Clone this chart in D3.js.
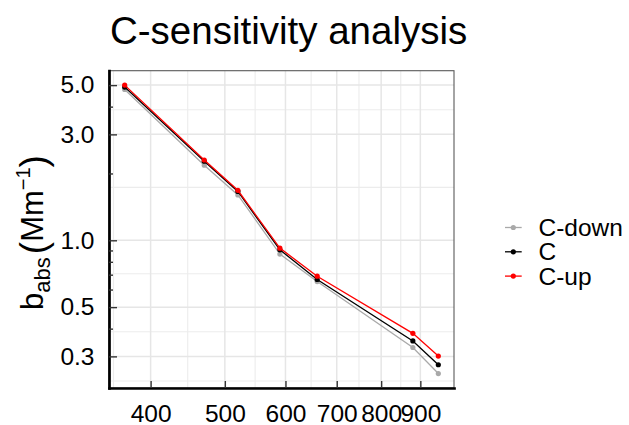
<!DOCTYPE html>
<html>
<head>
<meta charset="utf-8">
<script src="https://cdn.jsdelivr.net/npm/d3@7"></script>
<style>
  body { margin: 0; background: #fff; }
  text { font-family: "Liberation Sans", Arial, Helvetica, sans-serif; fill: #000; }
</style>
</head>
<body>
<svg id="chart" width="629" height="425"></svg>
<script>
// Absorption coefficient per wavelength for the three C scenarios
const wavelengths = [370, 470, 520, 590, 660, 880, 950];
const seriesNames = ["C-down", "C", "C-up"];
const cDown = [4.78, 2.18, 1.60, 0.867, 0.652, 0.329, 0.251];
const cMid  = [4.90, 2.27, 1.66, 0.906, 0.666, 0.352, 0.275];
const cUp   = [5.00, 2.30, 1.68, 0.922, 0.689, 0.381, 0.301];
const seriesColors = ["#a9a9a9", "#000000", "#ff0000"];

const xTicks = [400, 500, 600, 700, 800, 900];
const yTicks = [0.3, 0.5, 1.0, 3.0, 5.0];
const yTickLabels = ["0.3", "0.5", "1.0", "3.0", "5.0"];
const yMinorTicks = [0.4, 0.6, 0.7, 0.8, 0.9, 2, 4];

const series = [cDown, cMid, cUp].map((vals, i) => ({
  name: seriesNames[i],
  color: seriesColors[i],
  points: wavelengths.map((w, j) => ({ w, v: vals[j] }))
}));

const svg = d3.select("#chart");
const panel = { left: 109, right: 454, top: 70.7, bottom: 388 };

// log limits padded by 5% of the log range on each side
function paddedLog(lo, hi) {
  const a = Math.log10(lo), b = Math.log10(hi), pad = 0.05 * (b - a);
  return [Math.pow(10, a - pad), Math.pow(10, b + pad)];
}
const allVals = cDown.concat(cMid, cUp);
const x = d3.scaleLog().domain(paddedLog(d3.min(wavelengths), d3.max(wavelengths)))
  .range([panel.left, panel.right]);
const y = d3.scaleLog().domain(paddedLog(d3.min(allVals), d3.max(allVals)))
  .range([panel.bottom, panel.top]);

// minor grid positions: log-space midpoints between majors, extended one step
function minorBreaks(majors, domain) {
  const b = majors.map(Math.log10);
  const lim = domain.map(Math.log10);
  const bd = b[1] - b[0];
  let ext = b.slice();
  if (lim[0] < ext[0]) ext = [ext[0] - bd].concat(ext);
  if (lim[1] > ext[ext.length - 1]) ext.push(ext[ext.length - 1] + bd);
  const out = [];
  for (let i = 0; i < ext.length - 1; i++) out.push((ext[i] + ext[i + 1]) / 2);
  return out.map(v => Math.pow(10, v))
    .filter(v => Math.log10(v) >= lim[0] && Math.log10(v) <= lim[1]);
}

const grid = svg.append("g");
grid.selectAll(".xminor").data(minorBreaks(xTicks, x.domain())).join("line")
  .attr("x1", d => x(d)).attr("x2", d => x(d))
  .attr("y1", panel.top).attr("y2", panel.bottom)
  .attr("stroke", "#ececec").attr("stroke-width", 1.1);
grid.selectAll(".yminor").data(minorBreaks(yTicks, y.domain())).join("line")
  .attr("y1", d => y(d)).attr("y2", d => y(d))
  .attr("x1", panel.left).attr("x2", panel.right)
  .attr("stroke", "#ececec").attr("stroke-width", 1.1);
grid.selectAll(".xmajor").data(xTicks).join("line")
  .attr("x1", d => x(d)).attr("x2", d => x(d))
  .attr("y1", panel.top).attr("y2", panel.bottom)
  .attr("stroke", "#e6e6e6").attr("stroke-width", 1.5);
grid.selectAll(".ymajor").data(yTicks).join("line")
  .attr("y1", d => y(d)).attr("y2", d => y(d))
  .attr("x1", panel.left).attr("x2", panel.right)
  .attr("stroke", "#e6e6e6").attr("stroke-width", 1.5);

// panel border
svg.append("rect")
  .attr("x", panel.left).attr("y", panel.top)
  .attr("width", panel.right - panel.left).attr("height", panel.bottom - panel.top)
  .attr("fill", "none").attr("stroke", "#5a5a5a").attr("stroke-width", 1.1);

// series lines and points
const line = d3.line().x(d => x(d.w)).y(d => y(d.v));
const marks = svg.append("g");
series.forEach(s => {
  marks.append("path").datum(s.points)
    .attr("d", line).attr("fill", "none")
    .attr("stroke", s.color).attr("stroke-width", 1.3);
  marks.selectAll(null).data(s.points).join("circle")
    .attr("cx", d => x(d.w)).attr("cy", d => y(d.v)).attr("r", 2.6)
    .attr("fill", s.color);
});

// axes with inward ticks
const fontSize = 24.5;
const xAxis = svg.append("g").attr("transform", `translate(0,${panel.bottom})`)
  .call(d3.axisBottom(x).tickValues(xTicks).tickFormat(d3.format("d"))
    .tickSize(-7).tickSizeOuter(0).tickPadding(17));
const yAxis = svg.append("g").attr("transform", `translate(${panel.left},0)`)
  .call(d3.axisLeft(y).tickValues(yTicks).tickFormat((d, i) => yTickLabels[i])
    .tickSize(-8).tickSizeOuter(0).tickPadding(14.5));
const yAxisMinor = svg.append("g").attr("transform", `translate(${panel.left},0)`)
  .call(d3.axisLeft(y).tickValues(yMinorTicks).tickFormat("")
    .tickSize(-4).tickSizeOuter(0));
yAxisMinor.select(".domain").remove();

[xAxis, yAxis, yAxisMinor].forEach(g => {
  g.selectAll(".tick line").attr("stroke", "#333").attr("stroke-width", 1.4);
  g.selectAll(".tick text").attr("font-size", fontSize)
    .style("font-family", "'Liberation Sans', Arial, Helvetica, sans-serif").attr("fill", "#000");
});
[xAxis, yAxis].forEach(g => {
  g.select(".domain").attr("stroke", "#000").attr("stroke-width", 2.7)
    .attr("stroke-linecap", "square");
});

// title
svg.append("text").attr("x", 110).attr("y", 43.5)
  .attr("font-size", 38.5).text("C-sensitivity analysis");

// y-axis title: b_abs (Mm^-1)
const yTitle = svg.append("text")
  .attr("transform", "translate(43.3,232.5) rotate(-90)")
  .attr("text-anchor", "middle").attr("font-size", 31);
yTitle.append("tspan").text("b");
yTitle.append("tspan").attr("font-size", 22).attr("dy", 6.5).text("abs");
yTitle.append("tspan").attr("font-size", 37).attr("dy", -4).attr("dx", 3).text("(");
yTitle.append("tspan").attr("dy", -2.5).text("Mm");
yTitle.append("tspan").attr("font-size", 20).attr("dy", -13).text("\u22121");
yTitle.append("tspan").attr("font-size", 37).attr("dy", 15.5).text(")");

// legend
const legend = svg.append("g");
const rowY = [227.5, 251.8, 276.1];
series.forEach((s, i) => {
  const g = legend.append("g").attr("transform", `translate(0,${rowY[i]})`);
  g.append("line").attr("x1", 505).attr("x2", 521.7).attr("y1", 0).attr("y2", 0)
    .attr("stroke", s.color).attr("stroke-width", 1.3);
  g.append("circle").attr("cx", 513.3).attr("cy", 0).attr("r", 2.6).attr("fill", s.color);
  g.append("text").attr("x", 538.5).attr("y", 8.6).attr("font-size", 24.5).text(s.name);
});
</script>
</body>
</html>
